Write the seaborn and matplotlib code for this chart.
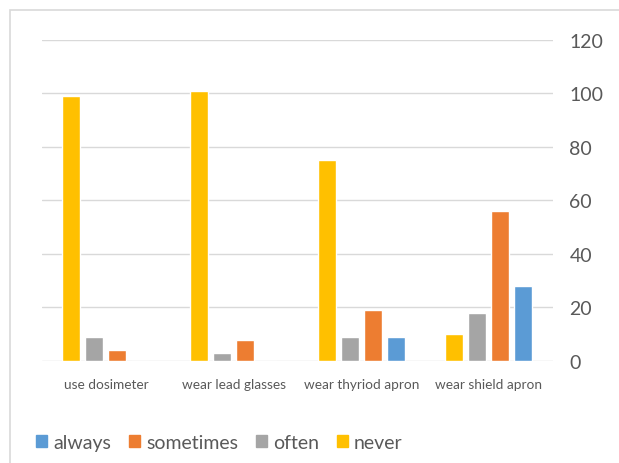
import numpy as np
import pandas as pd
import seaborn as sns
import matplotlib.pyplot as plt
from matplotlib.patches import Patch, Rectangle

sns.set_style("white")
plt.rcParams['font.family'] = ['Lato', 'DejaVu Sans']

# data
tasks = ["use dosimeter", "wear lead glasses", "wear thyriod apron", "wear shield apron"]
never = [99, 101, 75, 10]
often = [9, 3, 9, 18]
sometimes = [4, 8, 19, 56]
always = [0, 0, 9, 28]

series_order = ["never", "often", "sometimes", "always"]
colors = {"never": "#FFC000", "often": "#A5A5A5", "sometimes": "#ED7D31", "always": "#5B9BD5"}

df = pd.DataFrame({"task": tasks, "never": never, "often": often,
                   "sometimes": sometimes, "always": always})
long_df = df.melt(id_vars="task", var_name="answer", value_name="count")

fig = plt.figure(figsize=(6.19, 4.64), dpi=100)
ax = fig.add_axes([0.068, 0.22, 0.825, 0.692])

sns.barplot(data=long_df, x="task", y="count", hue="answer", hue_order=series_order,
            palette=colors, width=0.72, gap=0.22, ax=ax, legend=False, saturation=1)

ax.set_ylim(0, 120)
ax.set_yticks(range(0, 121, 20))
ax.yaxis.tick_right()
ax.grid(axis="y", color="#d9d9d9", linewidth=1)
ax.set_axisbelow(True)
for s in ax.spines.values():
    s.set_visible(False)
ax.set_xlabel("")
ax.set_ylabel("")
ax.tick_params(axis="y", length=0, labelsize=14, labelcolor="#595959", pad=12)
ax.tick_params(axis="x", length=0, labelsize=9.8, labelcolor="#595959", pad=12)

# outer chart frame (only left/top edges visible)
fig.patches.append(Rectangle((0.016, -0.1), 1.2, 1.076, transform=fig.transFigure,
                             fill=False, edgecolor="#d9d9d9", linewidth=1.2))

handles = [Patch(color=colors[k]) for k in ["always", "sometimes", "often", "never"]]
fig.legend(handles, ["always", "sometimes", "often", "never"], loc="center left",
           bbox_to_anchor=(0.045, 0.045), ncol=4, frameon=False, fontsize=14,
           labelcolor="#595959", handlelength=0.6, handleheight=0.6, handletextpad=0.3,
           columnspacing=0.9, borderaxespad=0)

fig.savefig("out.png", dpi=100)
